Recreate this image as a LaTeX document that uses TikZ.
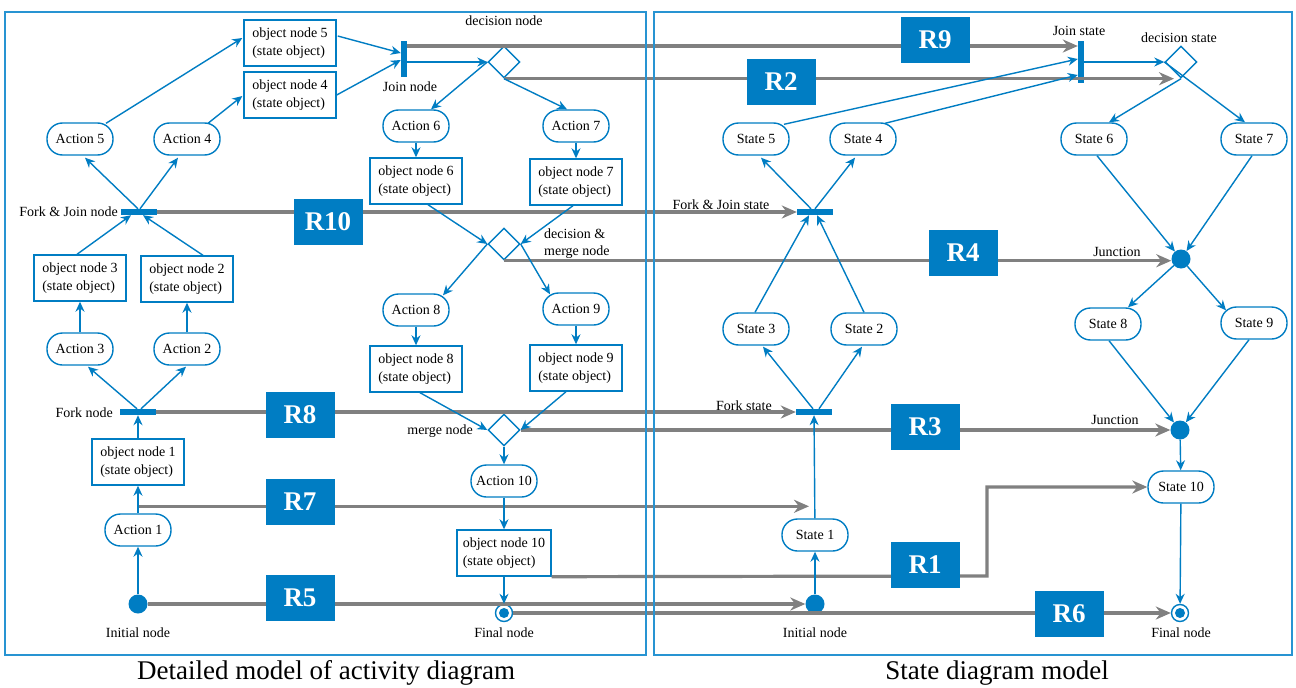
\documentclass[tikz,border=0pt]{standalone}
\usepackage{fontspec}
\setmainfont{Liberation Serif}
\usetikzlibrary{arrows.meta,shapes.geometric,calc}

\definecolor{bl}{RGB}{0,125,195}
\definecolor{fr}{RGB}{40,148,210}
\definecolor{gr}{RGB}{128,128,128}

\newcommand{\lblfont}{\fontsize{14}{17}\selectfont}
\newcommand{\objfont}{\fontsize{14}{18}\selectfont}
\newcommand{\rlabfont}{\fontsize{27}{29}\selectfont\bfseries}
\newcommand{\capfont}{\fontsize{27}{30}\selectfont}

\tikzset{
  act/.style={draw=bl, line width=1.4pt, rounded corners=15.5pt, minimum width=66pt,
    minimum height=32pt, inner sep=0pt, fill=white, font=\lblfont},
  obj/.style={draw=bl, line width=1.4pt, minimum width=92pt, minimum height=46pt,
    align=left, inner sep=0pt, fill=white, font=\objfont},
  hbar/.style={fill=bl, minimum width=36pt, minimum height=6pt, inner sep=0pt},
  vbar/.style={fill=bl, minimum width=6pt, minimum height=36pt, inner sep=0pt},
  dia/.style={diamond, draw=bl, line width=1.4pt, minimum width=32pt, minimum height=32pt,
    inner sep=0pt, fill=white},
  inode/.style={circle, fill=bl, minimum size=19pt, inner sep=0pt},
  fnode/.style={circle, draw=bl, line width=1.4pt, minimum size=17pt, inner sep=0pt, fill=white},
  rbox/.style={fill=bl, text=white, font=\rlabfont, minimum width=69pt, minimum height=46pt, inner sep=0pt},
  lbl/.style={font=\lblfont, inner sep=0pt},
  ba/.style={draw=bl, line width=1.4pt, -{Stealth[length=10pt,width=9pt]}},
  ga/.style={draw=gr, line width=3.2pt, -{Stealth[length=15pt,width=13pt]}},
  frame/.style={draw=fr, line width=1.8pt},
}

\begin{document}
\begin{tikzpicture}[x=1pt,y=-1pt]
\useasboundingbox (0,0) rectangle (1296,688);
\fill[white] (0,0) rectangle (1296,688);

% ---------------- activity diagram ----------------
\node[obj] (obj5) at (290,43) {object node 5\\(state object)};
\node[obj] (obj4) at (290,95) {object node 4\\(state object)};
\node[vbar] (join) at (404,59) {};
\node[dia] (dec) at (504,62) {};
\node[act] (act5) at (80,139) {Action 5};
\node[act] (act4) at (187,139) {Action 4};
\node[act] (act6) at (416,126) {Action 6};
\node[act] (act7) at (576,126) {Action 7};
\node[obj] (obj6) at (416,181) {object node 6\\(state object)};
\node[obj] (obj7) at (576,182) {object node 7\\(state object)};
\node[hbar] (fj) at (139,212) {};
\node[dia] (dm) at (504,244) {};
\node[obj] (obj3) at (80,278) {object node 3\\(state object)};
\node[obj] (obj2) at (187,279) {object node 2\\(state object)};
\node[act] (act8) at (416,310) {Action 8};
\node[act] (act9) at (576,309) {Action 9};
\node[act] (act3) at (80,349) {Action 3};
\node[act] (act2) at (187,349) {Action 2};
\node[obj] (obj8) at (416,369) {object node 8\\(state object)};
\node[obj] (obj9) at (576,368) {object node 9\\(state object)};
\node[hbar] (fork) at (138,412) {};
\node[dia] (mrg) at (504,430) {};
\node[obj] (obj1) at (138,462) {object node 1\\(state object)};
\node[act] (act10) at (504,481) {Action 10};
\node[act] (act1) at (138,530) {Action 1};
\node[obj, minimum width=94pt] (obj10) at (504,553) {object node 10\\(state object)};
\node[inode] (ini) at (138,604) {};
\node[fnode] (fin) at (504,613) {};
\fill[bl] (fin.center) circle[radius=5pt];

\node[lbl] (ldec) at (504,21) {decision node};
\node[lbl] (ljoin) at (410,87) {Join node};
\node[lbl, anchor=east] (lfj) at (118,212) {Fork \& Join node};
\node[lbl, anchor=west, align=left] (ldm) at (544,244) {decision \&\\merge node};
\node[lbl, anchor=east] (lfork) at (113,413) {Fork node};
\node[lbl, anchor=east] (lmrg) at (473,431) {merge node};
\node[lbl] (lini) at (138,633) {Initial node};
\node[lbl] (lfin) at (504,633) {Final node};
\node[font=\capfont, inner sep=0pt] (cap1) at (326,673) {Detailed model of activity diagram};

% ---------------- state diagram ----------------
\node[vbar, minimum height=42pt] (jst) at (1081,62) {};
\node[dia] (dst) at (1181,62) {};
\node[act] (st5) at (756,139) {State 5};
\node[act] (st4) at (863,139) {State 4};
\node[act] (st6) at (1094,139) {State 6};
\node[act] (st7) at (1254,139) {State 7};
\node[hbar] (fjs) at (815,212) {};
\node[inode] (jn1) at (1181,259) {};
\node[act] (st3) at (756,329) {State 3};
\node[act] (st2) at (864,329) {State 2};
\node[act] (st8) at (1108,324) {State 8};
\node[act] (st9) at (1254,323) {State 9};
\node[hbar] (fks) at (814,412) {};
\node[inode] (jn2) at (1180,430) {};
\node[act] (st10) at (1181,487) {State 10};
\node[act] (st1) at (815,535) {State 1};
\node[inode] (ini2) at (815,604) {};
\node[fnode] (fin2) at (1180,613) {};
\fill[bl] (fin2.center) circle[radius=5pt];

\node[lbl] (ljst) at (1079,31) {Join state};
\node[lbl] (ldst) at (1179,38) {decision state};
\node[lbl] (lfjs) at (721,205) {Fork \& Join state};
\node[lbl] (ljn1) at (1117,252) {Junction};
\node[lbl] (lfks) at (744,406) {Fork state};
\node[lbl] (ljn2) at (1115,420) {Junction};
\node[lbl] (lini2) at (815,633) {Initial node};
\node[lbl] (lfin2) at (1181,633) {Final node};
\node[font=\capfont, inner sep=0pt] (cap2) at (997,673) {State diagram model};

% ---------------- mapping rules (grey) ----------------
\coordinate (r1bend) at (987,576);
\draw[ga] ($(join.east)+(0,-13)$) -- ($(jst.west)+(0,-16)$);
\draw[ga] (dec.south) -- ($(dst.south)+(-7,0)$);
\draw[ga] (fj.east) -- (fjs.west);
\draw[ga] (dm.south) -- (dm.south -| jn1.west);
\draw[ga] (fork.east) -- (fks.west);
\draw[ga] (mrg.east) -- (jn2.west);
\draw[ga] ($(act1.north)+(0,-7)$) -- ($(st1.north)+(-6,-12)$);
\draw[ga] (obj10.south east) -- (r1bend) |- (st10.west);
\draw[ga] (ini.east) -- (ini2.west);
\draw[ga] (fin.east) -- (fin2.west);

% frames
\draw[frame] (5,12) rectangle (646,655);
\draw[frame] (654,12) rectangle (1292,655);

% ---------------- activity flow ----------------
\draw[ba] (ini) -- (act1);
\draw[ba] (act1) -- (obj1);
\draw[ba] (obj1) -- (fork);
\draw[ba] ($(fork.north)+(-1,0)$) -- ($(act3.south)+(8,1)$);
\draw[ba] ($(fork.north)+(3,0)$) -- ($(act2.south)+(-1,1)$);
\draw[ba] (act3) -- (obj3);
\draw[ba] (act2) -- (obj2);
\draw[ba] ($(obj3.north)+(-3,0)$) -- ($(fj.south)+(-8,0)$);
\draw[ba] ($(obj2.north)+(16,0)$) -- ($(fj.south)+(4,0)$);
\draw[ba] ($(fj.north)+(-1,0)$) -- ($(act5.south)+(5,2)$);
\draw[ba] ($(fj.north)+(1,0)$) -- ($(act4.south)+(-9,2)$);
\draw[ba] ($(act5.north)+(26,1)$) -- ($(obj5.west)+(-1,-5)$);
\draw[ba] ($(act4.north)+(21,1)$) -- ($(obj4.west)+(-1,1)$);
\draw[ba] ($(obj5.east)+(1,-7)$) -- ($(join.west)+(0,-6)$);
\draw[ba] (obj4.east) -- ($(join.west)+(0,1)$);
\draw[ba] ($(join.east)+(0,3)$) -- (dec.west);
\draw[ba] (dec.west) -- ($(act6.north)+(15,0)$);
\draw[ba] (dec.south) -- ($(act7.north)+(-9,0)$);
\draw[ba] (act6) -- (obj6);
\draw[ba] (act7) -- (obj7);
\draw[ba] ($(obj6.south)+(12,0)$) -- (dm.west);
\draw[ba] ($(obj7.south)+(-3,0)$) -- (dm.east);
\draw[ba] (dm.west) -- ($(act8.north)+(27,2)$);
\draw[ba] (dm.east) -- ($(act9.north)+(-26,2)$);
\draw[ba] (act8) -- (obj8);
\draw[ba] (act9) -- (obj9);
\draw[ba] ($(obj8.south)+(4,0)$) -- (mrg.west);
\draw[ba] ($(obj9.south)+(-10,0)$) -- (mrg.east);
\draw[ba] (mrg) -- (act10);
\draw[ba] (act10) -- (obj10);
\draw[ba] (obj10) -- (fin);

% ---------------- state transitions ----------------
\draw[ba] (ini2) -- (st1);
\draw[ba] (st1) -- (fks);
\draw[ba] ($(fks.north)+(-1,0)$) -- ($(st3.south)+(7,1)$);
\draw[ba] ($(fks.north)+(5,0)$) -- ($(st2.south)+(-2,1)$);
\draw[ba] ($(st3.north)+(-1,0)$) -- ($(fjs.south)+(-6,0)$);
\draw[ba] (st2.north) -- ($(fjs.south)+(2,0)$);
\draw[ba] ($(fjs.north)+(-4,0)$) -- ($(st5.south)+(5,2)$);
\draw[ba] (fjs.north) -- ($(st4.south)+(-8,2)$);
\draw[ba] ($(st5.north)+(28,2)$) -- ($(jst.west)+(0,-3)$);
\draw[ba] ($(st4.north)+(22,1)$) -- ($(jst.west)+(0,13)$);
\draw[ba] (jst.east) -- (dst.west);
\draw[ba] (dst.west) -- ($(st7.north)+(-9,0)$);
\draw[ba] (dst.south) -- ($(st6.north)+(15,0)$);
\draw[ba] ($(st6.south)+(3,0)$) -- (jn1);
\draw[ba] ($(st7.south)+(-2,0)$) -- (jn1);
\draw[ba] (jn1) -- ($(st8.north)+(20,0)$);
\draw[ba] (jn1) -- ($(st9.north)+(-28,4)$);
\draw[ba] ($(st8.south)+(1,0)$) -- (jn2);
\draw[ba] ($(st9.south)+(-5,0)$) -- (jn2);
\draw[ba] (jn2) -- (st10);
\draw[ba] (st10) -- (fin2);

% ---------------- rule labels ----------------
\node[rbox] (r9) at (935,40) {R9};
\node[rbox] (r2) at (781,82) {R2};
\node[rbox] (r10) at (328,222) {R10};
\node[rbox] (r4) at (963,253) {R4};
\node[rbox] (r8) at (300,415) {R8};
\node[rbox] (r3) at (925,427) {R3};
\node[rbox] (r7) at (300,502) {R7};
\node[rbox] (r1) at (925,565) {R1};
\node[rbox] (r5) at (300,598) {R5};
\node[rbox] (r6) at (1069,614) {R6};
\end{tikzpicture}
\end{document}
